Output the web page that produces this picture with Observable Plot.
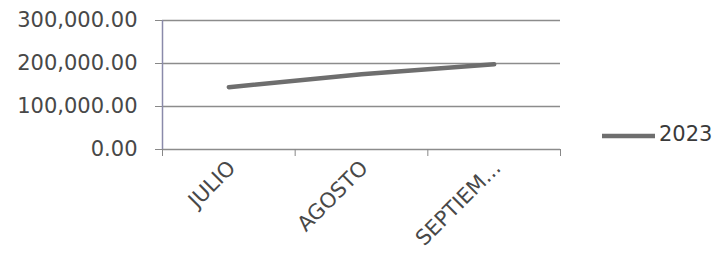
<!DOCTYPE html>
<html><head><meta charset="utf-8">
<script src="https://cdn.jsdelivr.net/npm/d3@7"></script>
<script src="https://cdn.jsdelivr.net/npm/@observablehq/plot@0.6"></script>
<style>
body{margin:0;background:#fff;}
#wrap{position:relative;width:718px;height:256px;font-family:"DejaVu Sans";}
#legend{position:absolute;left:602px;top:122px;display:flex;align-items:center;font-size:21px;color:#3a3a3a;}
#legend svg{margin-right:4px;margin-top:4px;}
</style></head><body><div id="wrap"></div>
<script>
const categories = ["JULIO", "AGOSTO", "SEPTIEM..."];
const values2023 = [145000, 175000, 198000];
const yTicks = [0, 100000, 200000, 300000];
const seriesName = "2023";

const data = categories.map((c, i) => ({i, c, v: values2023[i]}));
const chart = Plot.plot({
  width: 718, height: 256, marginLeft: 162, marginRight: 158, marginTop: 20, marginBottom: 107,
  style: {fontFamily: "DejaVu Sans", fontSize: "21px", color: "#444", background: "transparent"},
  x: {type: "linear", domain: [0, categories.length], label: null},
  y: {domain: [0, 300000], label: null},
  marks: [
    Plot.gridY(yTicks, {stroke: "#8c8c8c", strokeOpacity: 1, strokeWidth: 1.5}),
    Plot.ruleX([0], {stroke: "#8a8aaa", strokeWidth: 1.5}),
    Plot.axisY(yTicks, {tickFormat: d3.format(",.2f"), tickSize: 7, tickPadding: 18, stroke: "#888", fill: "#484848", label: null}),
    Plot.axisX(d3.range(categories.length + 1), {tickSize: 7, tickFormat: () => "", stroke: "#888", label: null}),
    Plot.axisX(categories.map((c, i) => i + 0.5), {tickSize: 0, tickFormat: d => categories[Math.floor(d)], tickRotate: -45, tickPadding: 15, dx: 3, fill: "#484848", label: null}),
    Plot.line(data, {x: d => d.i + 0.5, y: "v", stroke: "#6e6e6e", strokeWidth: 4.5})
  ]
});
const wrap = document.getElementById("wrap");
wrap.appendChild(chart);
const legend = document.createElement("div");
legend.id = "legend";
legend.innerHTML = `<svg width="53" height="10"><line x1="0" x2="53" y1="5" y2="5" stroke="#6e6e6e" stroke-width="4.5"/></svg><span>${seriesName}</span>`;
wrap.appendChild(legend);
</script>
</body></html>
